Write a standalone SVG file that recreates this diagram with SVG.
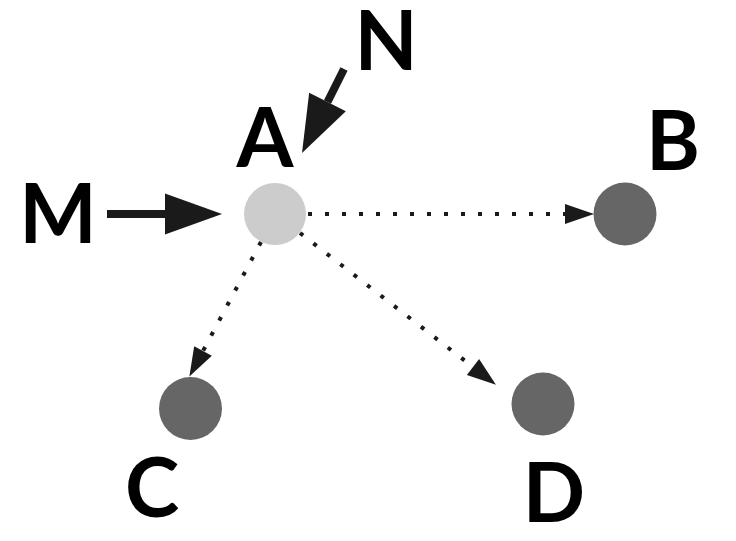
<svg xmlns="http://www.w3.org/2000/svg" width="736" height="541" viewBox="0 0 736 541">
<style>
.lbl{font-family:"Lato","DejaVu Sans","Liberation Sans",sans-serif;font-weight:bold;font-size:82px;fill:#000;text-anchor:middle}
.thick{stroke:#1a1a1a;stroke-width:8;fill:none}
.dot{stroke:#1a1a1a;stroke-width:4;stroke-dasharray:4 13;fill:none}
.light{fill:#cccccc}
.dark{fill:#666666}
</style>
<defs>
<marker id="big" markerUnits="userSpaceOnUse" markerWidth="57" markerHeight="41" refX="0" refY="20.5" orient="auto" overflow="visible">
<path d="M0,0 L57,20.5 L0,41 Z" fill="#1a1a1a"/>
</marker>
<marker id="small" markerUnits="userSpaceOnUse" markerWidth="29" markerHeight="20" refX="0" refY="10" orient="auto" overflow="visible">
<path d="M0,0 L29,10 L0,20 Z" fill="#1a1a1a"/>
</marker>
</defs>
<g id="connectors">
<line class="thick" x1="107" y1="214" x2="165" y2="214" marker-end="url(#big)"/>
<line class="thick" x1="344" y1="69" x2="327.5" y2="102" marker-end="url(#big)"/>
<line class="dot" x1="308" y1="214" x2="565" y2="214" marker-end="url(#small)"/>
<line class="dot" x1="261" y1="242" x2="203" y2="351" marker-end="url(#small)"/>
<line class="dot" x1="300" y1="233" x2="473" y2="367" marker-end="url(#small)"/>
</g>
<g id="node-A"><circle class="light" cx="275" cy="214" r="31"/><text class="lbl" x="265" y="167">A</text></g>
<g id="node-B"><circle class="dark" cx="625" cy="214" r="31.5"/><text class="lbl" x="673" y="170">B</text></g>
<g id="node-C"><circle class="dark" cx="190.5" cy="408.5" r="31.5"/><text class="lbl" x="152" y="517">C</text></g>
<g id="node-D"><circle class="dark" cx="543" cy="404" r="31.5"/><text class="lbl" x="554" y="522">D</text></g>
<g id="node-M"><text class="lbl" x="58" y="243">M</text></g>
<g id="node-N"><text class="lbl" x="386" y="70">N</text></g>
</svg>
